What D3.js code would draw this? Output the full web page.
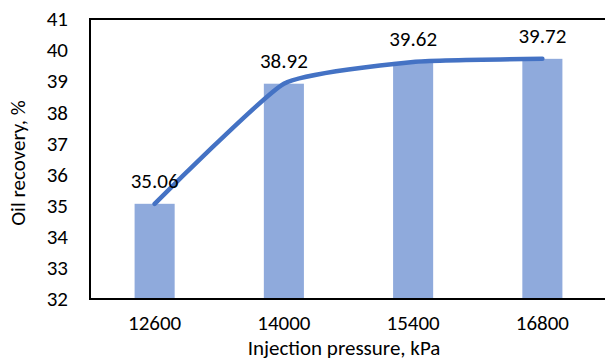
<!DOCTYPE html>
<html><head><meta charset="utf-8">
<script src="https://cdn.jsdelivr.net/npm/d3@7"></script>
<style>body{margin:0;background:#fff}svg{display:block}text{font-family:Carlito,Calibri,Lato,sans-serif;fill:#000}</style>
</head><body><svg id="c" width="605" height="360"></svg>
<script>
const categories = ["12600","14000","15400","16800"];
const recovery = [35.06, 38.92, 39.62, 39.72];
const yTicks = [32,33,34,35,36,37,38,39,40,41];

const svg = d3.select("#c");
const m = {left:90, right:-2, top:19, bottom:299};
const x = d3.scaleBand().domain(categories).range([m.left, 605 - m.right]).paddingInner(0.69).paddingOuter(0.345);
const y = d3.scaleLinear().domain([32,41]).range([m.bottom, m.top]);
const fs = 21;

svg.selectAll("rect.bar").data(recovery).join("rect").attr("class","bar")
  .attr("x",(d,i)=>x(categories[i])).attr("width",x.bandwidth())
  .attr("y",d=>y(d)).attr("height",d=>y(32)-y(d)).attr("fill","#8faadc");

const line = d3.line().x((d,i)=>x(categories[i])+x.bandwidth()/2).y(d=>y(d)).curve(d3.curveCardinal.tension(0.55));
svg.append("path").datum(recovery).attr("d",line).attr("fill","none")
  .attr("stroke","#4472c4").attr("stroke-width",4.5).attr("stroke-linecap","round");

// frame
svg.append("path").attr("d",`M606,${m.top}H${m.left}V${m.bottom}H606`).attr("fill","none").attr("stroke","#000").attr("stroke-width",2);

const yAxis = d3.axisLeft(y).tickValues(yTicks).tickSize(0).tickPadding(22);
const gy = svg.append("g").attr("transform",`translate(${m.left},0)`).call(yAxis);
gy.select(".domain").remove();
gy.selectAll("text").style("font-size",fs+"px").attr("font-family",null).attr("fill","#000");

const xAxis = d3.axisBottom(x).tickSize(0).tickPadding(16);
const gx = svg.append("g").attr("transform",`translate(0,${m.bottom})`).call(xAxis);
gx.select(".domain").remove();
gx.selectAll("text").style("font-size",fs+"px").attr("font-family",null).attr("fill","#000");

svg.selectAll("text.lbl").data(recovery).join("text").attr("class","lbl")
  .attr("x",(d,i)=>x(categories[i])+x.bandwidth()/2).attr("y",d=>y(d)-16)
  .attr("text-anchor","middle").style("font-size",fs+"px").text(d=>d.toFixed(2));

svg.append("text").attr("x",344).attr("y",355).attr("text-anchor","middle").style("font-size",fs+"px").text("Injection pressure, kPa");
svg.append("text").attr("transform","translate(25,163) rotate(-90)").attr("text-anchor","middle").style("font-size",fs+"px").text("Oil recovery, %");
</script></body></html>
